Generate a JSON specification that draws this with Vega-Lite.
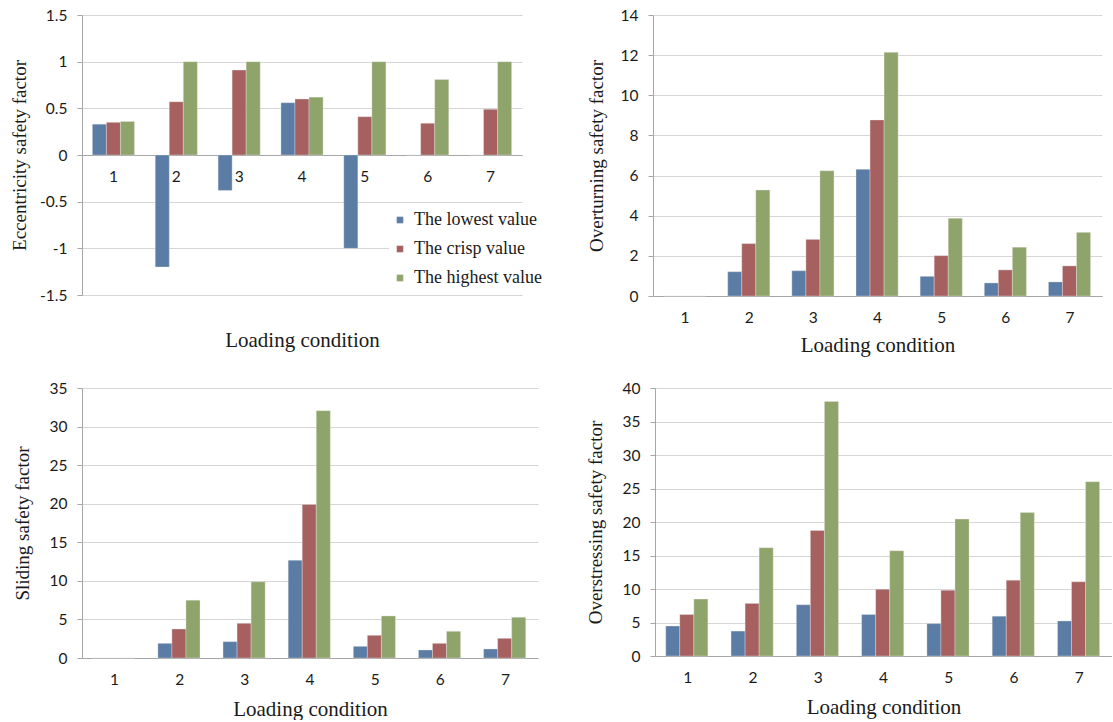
{
  "$schema": "https://vega.github.io/schema/vega-lite/v6.json",
  "padding": {"left": 10, "top": 8, "right": 0, "bottom": 0},
  "background": "white",
  "datasets": {
    "safety": [
      {"panel": "ecc", "cond": 1, "series": "The lowest value", "value": 0.33},
      {"panel": "ecc", "cond": 1, "series": "The crisp value", "value": 0.35},
      {"panel": "ecc", "cond": 1, "series": "The highest value", "value": 0.36},
      {"panel": "ecc", "cond": 2, "series": "The lowest value", "value": -1.2},
      {"panel": "ecc", "cond": 2, "series": "The crisp value", "value": 0.57},
      {"panel": "ecc", "cond": 2, "series": "The highest value", "value": 1.0},
      {"panel": "ecc", "cond": 3, "series": "The lowest value", "value": -0.38},
      {"panel": "ecc", "cond": 3, "series": "The crisp value", "value": 0.91},
      {"panel": "ecc", "cond": 3, "series": "The highest value", "value": 1.0},
      {"panel": "ecc", "cond": 4, "series": "The lowest value", "value": 0.56},
      {"panel": "ecc", "cond": 4, "series": "The crisp value", "value": 0.6},
      {"panel": "ecc", "cond": 4, "series": "The highest value", "value": 0.62},
      {"panel": "ecc", "cond": 5, "series": "The lowest value", "value": -1.0},
      {"panel": "ecc", "cond": 5, "series": "The crisp value", "value": 0.41},
      {"panel": "ecc", "cond": 5, "series": "The highest value", "value": 1.0},
      {"panel": "ecc", "cond": 6, "series": "The lowest value", "value": 0},
      {"panel": "ecc", "cond": 6, "series": "The crisp value", "value": 0.34},
      {"panel": "ecc", "cond": 6, "series": "The highest value", "value": 0.81},
      {"panel": "ecc", "cond": 7, "series": "The lowest value", "value": 0},
      {"panel": "ecc", "cond": 7, "series": "The crisp value", "value": 0.49},
      {"panel": "ecc", "cond": 7, "series": "The highest value", "value": 1.0},

      {"panel": "ovt", "cond": 1, "series": "The lowest value", "value": 0},
      {"panel": "ovt", "cond": 1, "series": "The crisp value", "value": 0},
      {"panel": "ovt", "cond": 1, "series": "The highest value", "value": 0},
      {"panel": "ovt", "cond": 2, "series": "The lowest value", "value": 1.21},
      {"panel": "ovt", "cond": 2, "series": "The crisp value", "value": 2.61},
      {"panel": "ovt", "cond": 2, "series": "The highest value", "value": 5.28},
      {"panel": "ovt", "cond": 3, "series": "The lowest value", "value": 1.26},
      {"panel": "ovt", "cond": 3, "series": "The crisp value", "value": 2.82},
      {"panel": "ovt", "cond": 3, "series": "The highest value", "value": 6.24},
      {"panel": "ovt", "cond": 4, "series": "The lowest value", "value": 6.31},
      {"panel": "ovt", "cond": 4, "series": "The crisp value", "value": 8.77},
      {"panel": "ovt", "cond": 4, "series": "The highest value", "value": 12.14},
      {"panel": "ovt", "cond": 5, "series": "The lowest value", "value": 0.98},
      {"panel": "ovt", "cond": 5, "series": "The crisp value", "value": 2.01},
      {"panel": "ovt", "cond": 5, "series": "The highest value", "value": 3.87},
      {"panel": "ovt", "cond": 6, "series": "The lowest value", "value": 0.65},
      {"panel": "ovt", "cond": 6, "series": "The crisp value", "value": 1.3},
      {"panel": "ovt", "cond": 6, "series": "The highest value", "value": 2.43},
      {"panel": "ovt", "cond": 7, "series": "The lowest value", "value": 0.7},
      {"panel": "ovt", "cond": 7, "series": "The crisp value", "value": 1.5},
      {"panel": "ovt", "cond": 7, "series": "The highest value", "value": 3.17},

      {"panel": "sld", "cond": 1, "series": "The lowest value", "value": 0},
      {"panel": "sld", "cond": 1, "series": "The crisp value", "value": 0},
      {"panel": "sld", "cond": 1, "series": "The highest value", "value": 0},
      {"panel": "sld", "cond": 2, "series": "The lowest value", "value": 1.9},
      {"panel": "sld", "cond": 2, "series": "The crisp value", "value": 3.76},
      {"panel": "sld", "cond": 2, "series": "The highest value", "value": 7.49},
      {"panel": "sld", "cond": 3, "series": "The lowest value", "value": 2.12},
      {"panel": "sld", "cond": 3, "series": "The crisp value", "value": 4.5},
      {"panel": "sld", "cond": 3, "series": "The highest value", "value": 9.87},
      {"panel": "sld", "cond": 4, "series": "The lowest value", "value": 12.68},
      {"panel": "sld", "cond": 4, "series": "The crisp value", "value": 19.9},
      {"panel": "sld", "cond": 4, "series": "The highest value", "value": 32.06},
      {"panel": "sld", "cond": 5, "series": "The lowest value", "value": 1.51},
      {"panel": "sld", "cond": 5, "series": "The crisp value", "value": 2.94},
      {"panel": "sld", "cond": 5, "series": "The highest value", "value": 5.45},
      {"panel": "sld", "cond": 6, "series": "The lowest value", "value": 1.04},
      {"panel": "sld", "cond": 6, "series": "The crisp value", "value": 1.9},
      {"panel": "sld", "cond": 6, "series": "The highest value", "value": 3.46},
      {"panel": "sld", "cond": 7, "series": "The lowest value", "value": 1.17},
      {"panel": "sld", "cond": 7, "series": "The crisp value", "value": 2.55},
      {"panel": "sld", "cond": 7, "series": "The highest value", "value": 5.28},

      {"panel": "ovs", "cond": 1, "series": "The lowest value", "value": 4.48},
      {"panel": "ovs", "cond": 1, "series": "The crisp value", "value": 6.19},
      {"panel": "ovs", "cond": 1, "series": "The highest value", "value": 8.5},
      {"panel": "ovs", "cond": 2, "series": "The lowest value", "value": 3.72},
      {"panel": "ovs", "cond": 2, "series": "The crisp value", "value": 7.85},
      {"panel": "ovs", "cond": 2, "series": "The highest value", "value": 16.15},
      {"panel": "ovs", "cond": 3, "series": "The lowest value", "value": 7.65},
      {"panel": "ovs", "cond": 3, "series": "The crisp value", "value": 18.72},
      {"panel": "ovs", "cond": 3, "series": "The highest value", "value": 37.99},
      {"panel": "ovs", "cond": 4, "series": "The lowest value", "value": 6.19},
      {"panel": "ovs", "cond": 4, "series": "The crisp value", "value": 9.96},
      {"panel": "ovs", "cond": 4, "series": "The highest value", "value": 15.7},
      {"panel": "ovs", "cond": 5, "series": "The lowest value", "value": 4.83},
      {"panel": "ovs", "cond": 5, "series": "The crisp value", "value": 9.81},
      {"panel": "ovs", "cond": 5, "series": "The highest value", "value": 20.43},
      {"panel": "ovs", "cond": 6, "series": "The lowest value", "value": 5.94},
      {"panel": "ovs", "cond": 6, "series": "The crisp value", "value": 11.32},
      {"panel": "ovs", "cond": 6, "series": "The highest value", "value": 21.43},
      {"panel": "ovs", "cond": 7, "series": "The lowest value", "value": 5.23},
      {"panel": "ovs", "cond": 7, "series": "The crisp value", "value": 11.07},
      {"panel": "ovs", "cond": 7, "series": "The highest value", "value": 26.01}
    ]
  },
  "data": {"name": "safety"},
  "resolve": {"scale": {"color": "independent", "x": "independent", "y": "independent"}},
  "vconcat": [
    {
      "resolve": {"scale": {"color": "independent", "x": "independent", "y": "independent"}},
      "spacing": 43,
      "hconcat": [
        {
          "width": 440,
          "height": 280,
          "transform": [{"filter": "datum.panel === 'ecc'"}],
          "mark": {"type": "bar"},
          "encoding": {
            "x": {
              "field": "cond", "type": "ordinal",
              "scale": {"paddingInner": 0.33, "paddingOuter": 0.165},
              "axis": {"title": "Loading condition", "offset": -140, "titlePadding": 145, "labelPadding": 14}
            },
            "xOffset": {"field": "series", "sort": ["The lowest value", "The crisp value", "The highest value"]},
            "y": {
              "field": "value", "type": "quantitative",
              "scale": {"domain": [-1.5, 1.5], "nice": false, "zero": false},
              "axis": {"title": "Eccentricity safety factor", "titleX": -63, "values": [-1.5, -1, -0.5, 0, 0.5, 1, 1.5], "labelExpr": "'' + datum.value"}
            },
            "color": {
              "field": "series", "type": "nominal",
              "scale": {"domain": ["The lowest value", "The crisp value", "The highest value"], "range": ["#5B7CA4", "#A5605F", "#8FA46A"]},
              "legend": {"orient": "none", "legendX": 307, "legendY": 194, "title": null, "fillColor": "white"}
            }
          }
        },
        {
          "width": 449,
          "height": 281,
          "transform": [{"filter": "datum.panel === 'ovt'"}],
          "mark": {"type": "bar"},
          "encoding": {
            "x": {
              "field": "cond", "type": "ordinal",
              "scale": {"paddingInner": 0.33, "paddingOuter": 0.165},
              "axis": {"title": "Loading condition", "titlePadding": 9}
            },
            "xOffset": {"field": "series", "sort": ["The lowest value", "The crisp value", "The highest value"]},
            "y": {
              "field": "value", "type": "quantitative",
              "scale": {"domain": [0, 14], "nice": false},
              "axis": {"title": "Overturning safety factor", "titleX": -57, "values": [0, 2, 4, 6, 8, 10, 12, 14]}
            },
            "color": {
              "field": "series", "type": "nominal",
              "scale": {"domain": ["The lowest value", "The crisp value", "The highest value"], "range": ["#5B7CA4", "#A5605F", "#8FA46A"]},
              "legend": null
            }
          }
        }
      ]
    },
    {
      "resolve": {"scale": {"color": "independent", "x": "independent", "y": "independent"}},
      "spacing": 47,
      "hconcat": [
        {
          "width": 456,
          "height": 270,
          "transform": [{"filter": "datum.panel === 'sld'"}],
          "mark": {"type": "bar"},
          "encoding": {
            "x": {
              "field": "cond", "type": "ordinal",
              "scale": {"paddingInner": 0.33, "paddingOuter": 0.165},
              "axis": {"title": "Loading condition", "titlePadding": 11}
            },
            "xOffset": {"field": "series", "sort": ["The lowest value", "The crisp value", "The highest value"]},
            "y": {
              "field": "value", "type": "quantitative",
              "scale": {"domain": [0, 35], "nice": false},
              "axis": {"title": "Sliding safety factor", "titleX": -60, "values": [0, 5, 10, 15, 20, 25, 30, 35]}
            },
            "color": {
              "field": "series", "type": "nominal",
              "scale": {"domain": ["The lowest value", "The crisp value", "The highest value"], "range": ["#5B7CA4", "#A5605F", "#8FA46A"]},
              "legend": null
            }
          }
        },
        {
          "width": 457,
          "height": 268,
          "transform": [{"filter": "datum.panel === 'ovs'"}],
          "mark": {"type": "bar"},
          "encoding": {
            "x": {
              "field": "cond", "type": "ordinal",
              "scale": {"paddingInner": 0.33, "paddingOuter": 0.165},
              "axis": {"title": "Loading condition", "titlePadding": 11}
            },
            "xOffset": {"field": "series", "sort": ["The lowest value", "The crisp value", "The highest value"]},
            "y": {
              "field": "value", "type": "quantitative",
              "scale": {"domain": [0, 40], "nice": false},
              "axis": {"title": "Overstressing safety factor", "titleX": -60, "values": [0, 5, 10, 15, 20, 25, 30, 35, 40]}
            },
            "color": {
              "field": "series", "type": "nominal",
              "scale": {"domain": ["The lowest value", "The crisp value", "The highest value"], "range": ["#5B7CA4", "#A5605F", "#8FA46A"]},
              "legend": null
            }
          }
        }
      ]
    }
  ],
  "spacing": 25,
  "config": {
    "view": {"stroke": null},
    "bar": {"stroke": "#E8E8E8", "strokeWidth": 0.6, "strokeOpacity": 0.6},
    "axis": {
      "labelFont": "Lato",
      "labelFontSize": 15.5,
      "labelColor": "#1a1a1a",
      "titleFont": "Liberation Serif",
      "titleFontWeight": "normal",
      "titleColor": "#1a1a1a",
      "domainColor": "#A6A6A6",
      "tickColor": "#A6A6A6",
      "gridColor": "#D6D6D6"
    },
    "axisX": {"grid": false, "ticks": false, "labelAngle": 0, "labelPadding": 14, "titlePadding": 8, "titleFontSize": 21},
    "axisY": {"grid": true, "tickSize": 5, "labelPadding": 10, "titleFontSize": 19, "titleBaseline": "middle"},
    "legend": {
      "labelFont": "Liberation Serif",
      "labelFontSize": 18,
      "labelColor": "#1a1a1a",
      "symbolType": "square",
      "symbolSize": 45,
      "symbolStrokeWidth": 0,
      "rowPadding": 11,
      "labelOffset": 5,
      "padding": 2
    }
  }
}
